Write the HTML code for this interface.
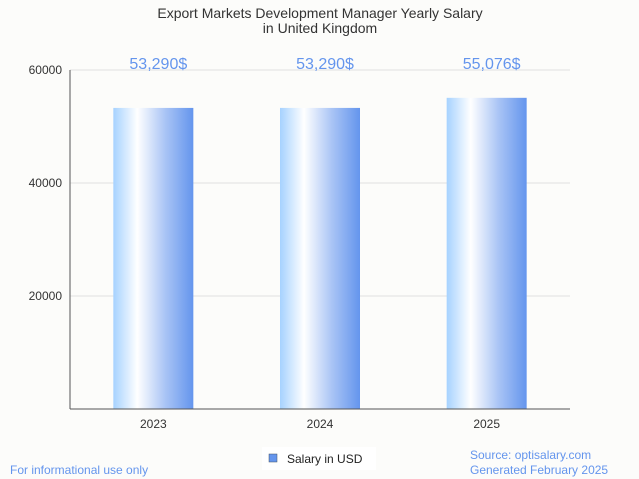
<!DOCTYPE html>
<html><head><meta charset="utf-8">
<style>
body{margin:0;background:#fcfcfa;font-family:"Liberation Sans",sans-serif;}
#c{position:relative;width:639px;height:479px;overflow:hidden;background:#fcfcfa}
svg text{font-family:"Liberation Sans",sans-serif}
</style></head><body>
<div id="c">
<svg id="s" width="639" height="479">
<defs>
<linearGradient id="g" x1="0" x2="1" y1="0" y2="0">
<stop offset="0" stop-color="#a6d2ff"/>
<stop offset="0.3" stop-color="#ffffff"/>
<stop offset="0.65" stop-color="#a9c4f5"/>
<stop offset="1" stop-color="#6495ed"/>
</linearGradient>
</defs>
<text x="320" y="18" text-anchor="middle" font-size="14" fill="#333">Export Markets Development Manager Yearly Salary</text>
<text x="320" y="33" text-anchor="middle" font-size="14" fill="#333">in United Kingdom</text>
<g id="grid"></g>
<g id="bars"></g>
<line x1="70" y1="70" x2="70" y2="409" stroke="#555"/>
<line x1="70" y1="409" x2="570" y2="409" stroke="#555"/>
<rect x="262" y="447" width="114" height="23" fill="#ffffff"/>
<rect x="269" y="454" width="8" height="8" fill="#6495ed" stroke="#456" stroke-width="0.5"/>
<text x="287" y="463" font-size="12" fill="#222">Salary in USD</text>
<text x="10" y="474" font-size="12" fill="#6495ed">For informational use only</text>
<text x="470" y="459" font-size="12" fill="#6495ed">Source: optisalary.com</text>
<text x="470" y="474" font-size="12" fill="#6495ed">Generated February 2025</text>
</svg></div>
<script>
const categories=["2023","2024","2025"];
const values=[53290,53290,55076];
const labels=["53,290$","53,290$","55,076$"];
const ticks=[20000,40000,60000];
const NS="http://www.w3.org/2000/svg";
const x0=70,x1=570,y0=409,y1=70,yMax=60000;
const y=v=>y0-(v/yMax)*(y0-y1);
const band=(x1-x0)/categories.length;
const xc=i=>x0+band*(i+0.5);
function mk(t,a,p){const e=document.createElementNS(NS,t);for(const k in a)e.setAttribute(k,a[k]);p.appendChild(e);return e;}
const grid=document.getElementById('grid');
ticks.forEach(t=>{
 const l=mk('line',{x1:x0,x2:x1,y1:y(t),y2:y(t),stroke:'#e0e0e0'},grid);
 
 
 const tx=mk('text',{x:x0-8,y:y(t)+4,'text-anchor':'end','font-size':12,fill:'#333'},grid);
 tx.textContent=t;
 
 
});
const bars=document.getElementById('bars');
categories.forEach((c,i)=>{
 const b=mk('rect',{x:xc(i)-40,y:y(values[i]),width:80,height:y0-y(values[i]),fill:'url(#g)'},bars);
 
 
 const v=mk('text',{x:xc(i)+5,y:69,'text-anchor':'middle','font-size':16,fill:'#6495ed'},bars);
 v.textContent=labels[i];
 
 
 const xl=mk('text',{x:xc(i),y:428,'text-anchor':'middle','font-size':12,fill:'#333'},bars);
 xl.textContent=c;
 
 
});
</script>
</body></html>
